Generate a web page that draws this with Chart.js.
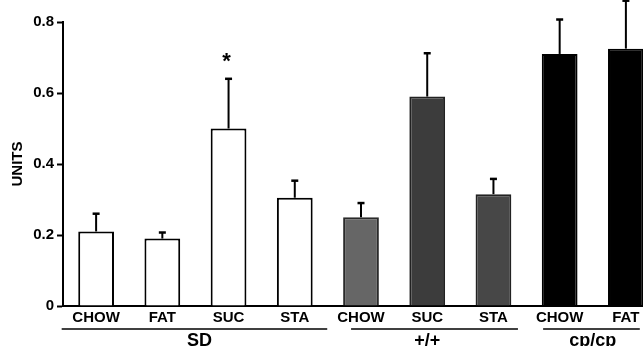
<!DOCTYPE html>
<html>
<head>
<meta charset="utf-8">
<script src="https://cdn.jsdelivr.net/npm/chart.js@4/dist/chart.umd.min.js"></script>
<style>
  html, body { margin: 0; padding: 0; background: #fff; overflow: hidden; }
  #wrap { width: 643px; height: 346px; overflow: hidden; }
</style>
</head>
<body>
<div id="wrap"><canvas id="bar-chart" width="661" height="346"></canvas></div>
<script>
// diet categories along the x axis
const categories = ['CHOW', 'FAT', 'SUC', 'STA', 'CHOW', 'SUC', 'STA', 'CHOW', 'FAT']
// strain groups under the categories
const groupNames = ['SD', '+/+', 'cp/cp']
const groupFirst = [0, 4, 7]
const groupLast = [3, 6, 8]
// mean values and upper error (SEM)
const means = [0.21, 0.19, 0.50, 0.305, 0.25, 0.59, 0.315, 0.71, 0.725]
const errors = [0.05, 0.017, 0.14, 0.048, 0.04, 0.122, 0.043, 0.097, 0.135]
const marks = ['', '', '*', '', '', '', '', '', '']
const yTicks = [0, 0.2, 0.4, 0.6, 0.8]

const fills = ['#fff', '#fff', '#fff', '#fff', '#666', '#3c3c3c', '#474747', '#000', '#000']
const borders = ['#000', '#000', '#000', '#000', '#2a2a2a', '#222', '#222', '#000', '#000']

const font = '"Liberation Sans", Arial, sans-serif'

// line extents under each group, in category widths from first/last center
const groupLineFrom = [-0.52, -0.15, -0.25]
const groupLineTo = [0.49, 0.37, 0.21]

const errorBars = {
  id: 'errorBars',
  afterDatasetsDraw(chart) {
    const ctx = chart.ctx
    const y = chart.scales.y
    const meta = chart.getDatasetMeta(0)
    ctx.save()
    ctx.strokeStyle = '#000'
    meta.data.forEach((bar, i) => {
      const top = y.getPixelForValue(means[i])
      const end = y.getPixelForValue(means[i] + errors[i])
      ctx.lineWidth = 2
      ctx.beginPath()
      ctx.moveTo(bar.x, top)
      ctx.lineTo(bar.x, end)
      ctx.stroke()
      ctx.lineWidth = 2.5
      ctx.beginPath()
      ctx.moveTo(bar.x - 3.5, end)
      ctx.lineTo(bar.x + 3.5, end)
      ctx.stroke()
      if (marks[i]) {
        ctx.fillStyle = '#000'
        ctx.font = 'bold 22px ' + font
        ctx.textAlign = 'center'
        ctx.textBaseline = 'middle'
        ctx.fillText(marks[i], bar.x - 2, end - 17)
      }
    })
    ctx.restore()
  }
}

const groupLabels = {
  id: 'groupLabels',
  afterDraw(chart) {
    const ctx = chart.ctx
    const x = chart.scales.x
    const cw = x.getPixelForValue(1) - x.getPixelForValue(0)
    ctx.save()
    ctx.strokeStyle = '#000'
    ctx.fillStyle = '#000'
    ctx.lineWidth = 1.5
    ctx.font = 'bold 18px ' + font
    ctx.textAlign = 'center'
    ctx.textBaseline = 'middle'
    groupNames.forEach((name, g) => {
      const a = x.getPixelForValue(groupFirst[g])
      const b = x.getPixelForValue(groupLast[g])
      ctx.beginPath()
      ctx.moveTo(a + groupLineFrom[g] * cw, 329)
      ctx.lineTo(b + groupLineTo[g] * cw, 329)
      ctx.stroke()
      ctx.fillText(name, (a + b) / 2 + (g === 0 ? 4 : 0), 341)
    })
    ctx.restore()
  }
}

new Chart(document.getElementById('bar-chart'), {
  type: 'bar',
  data: {
    labels: categories,
    datasets: [{
      data: means,
      backgroundColor: fills,
      borderColor: borders,
      borderWidth: 2,
      barPercentage: 0.54,
      categoryPercentage: 1
    }]
  },
  options: {
    responsive: false,
    animation: false,
    layout: { padding: { top: 22, right: 2, bottom: 16, left: 0 } },
    plugins: { legend: { display: false }, tooltip: { enabled: false } },
    scales: {
      x: {
        border: { color: '#000', width: 2 },
        grid: { display: false, drawTicks: false },
        ticks: {
          color: '#000', padding: 3, maxRotation: 0, autoSkip: false,
          font: { family: font, size: 15, weight: 'bold' }
        }
      },
      y: {
        min: 0, max: 0.8,
        afterFit(s) { s.width = 63 },
        afterBuildTicks(s) { s.ticks = yTicks.map(v => ({ value: v })) },
        border: { color: '#000', width: 2 },
        grid: { drawOnChartArea: false, color: '#000', tickLength: 6, tickWidth: 2 },
        ticks: {
          color: '#000', padding: 3,
          font: { family: font, size: 15, weight: 'bold' },
          callback: v => v === 0 ? '0' : v.toFixed(1)
        },
        title: {
          display: true, text: 'UNITS', color: '#000', padding: { top: 9, bottom: 0 },
          font: { family: font, size: 15, weight: 'bold' }
        }
      }
    }
  },
  plugins: [errorBars, groupLabels]
})
</script>
</body>
</html>
